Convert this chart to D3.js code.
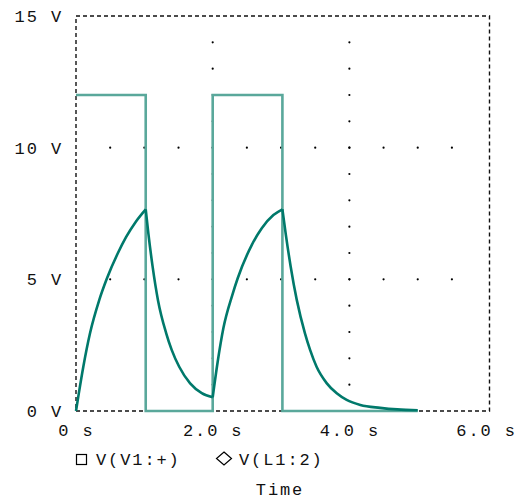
<!DOCTYPE html>
<html>
<head>
<meta charset="utf-8">
<script src="https://cdn.jsdelivr.net/npm/d3@7"></script>
<style>
	body { margin: 0; background: #fff; }
	text { font-family: "Liberation Mono", monospace; font-size: 17px; letter-spacing: 1.9px; fill: #111; }
</style>
</head>
<body>
<div id="chart"></div>
<script>
// ********** TRANSIENT PLOT **********

// Tick labels
const xTicks = [0, 2, 4, 6];
const xTickLabels = ['0 s', '2.0 s', '4.0 s', '6.0 s'];
const yTicks = [0, 5, 10, 15];
const yTickLabels = ['0 V', '5 V', '10 V', '15 V'];

// V(V1:+) - pulse source, [time s, volts]
const pulseTime = [0, 1.02, 1.02, 2.0, 2.0, 3.02, 3.02, 5.0];
const pulseVolts = [12, 12, 0, 0, 12, 12, 0, 0];

// V(L1:2), one array per segment (the corners are sharp)
const riseOneTime = [0, 0.04, 0.107, 0.205, 0.341, 0.449, 0.61, 0.732, 0.878, 1.02];
const riseOneVolts = [0, 0.65, 1.68, 2.95, 4.22, 5.01, 5.98, 6.6, 7.2, 7.66];
const fallOneTime = [1.02, 1.06, 1.12, 1.2, 1.32, 1.40, 1.51, 1.67, 1.84, 2.0];
const fallOneVolts = [7.66, 6.72, 5.5, 4.2, 2.95, 2.32, 1.68, 1.05, 0.68, 0.52];
const riseTwoTime = [2.0, 2.073, 2.156, 2.288, 2.366, 2.571, 2.718, 2.888, 3.02];
const riseTwoVolts = [0.52, 1.87, 3.14, 4.41, 5.04, 6.30, 6.94, 7.44, 7.66];
const fallTwoTime = [3.02, 3.07, 3.14, 3.23, 3.35, 3.425, 3.52, 3.67, 3.815, 3.96, 4.16, 4.45, 4.7, 5.0];
const fallTwoVolts = [7.66, 6.7, 5.5, 4.22, 2.95, 2.32, 1.68, 1.05, 0.67, 0.42, 0.23, 0.12, 0.06, 0.03];

// Dotted grid positions
const gridTimes = [2, 4];
const gridVolts = [5, 10];

const width = 529, height = 500;
const margin = { top: 16, left: 76, right: 39.5, bottom: 89 };

const colors = { pulse: '#5aa89b', coil: '#00796b', frame: '#111' };

const svg = d3.select('#chart')
	.append('svg')
	.attr('width', width)
	.attr('height', height);

// Scales
const xScale = d3.scaleLinear()
	.domain([0, 6.05])
	.range([margin.left, width - margin.right]);
const yScale = d3.scaleLinear()
	.domain([0, 15])
	.range([height - margin.bottom, margin.top]);

const zip = (ts, vs) => ts.map((t, i) => [t, vs[i]]);

// Dotted grid: vertical lines get a dot every volt, horizontal every half second
const dots = [];
gridTimes.forEach(t => d3.range(1, 15).forEach(v => dots.push([t, v])));
gridVolts.forEach(v => d3.range(0.5, 6, 0.5).forEach(t => dots.push([t, v])));
svg.append('g')
	.attr('class', 'grid')
	.selectAll('circle')
	.data(dots)
	.enter()
	.append('circle')
	.attr('cx', d => xScale(d[0]))
	.attr('cy', d => yScale(d[1]))
	.attr('r', 1.1)
	.attr('fill', '#000');

// Frame (dashed box)
const [x0, x1] = xScale.range();
const [y0, y1] = yScale.range();
svg.append('rect')
	.attr('x', x0)
	.attr('y', y1)
	.attr('width', x1 - x0)
	.attr('height', y0 - y1)
	.attr('fill', 'none')
	.attr('stroke', colors.frame)
	.attr('stroke-width', 1.4)
	.attr('stroke-dasharray', '4,3');

// Traces
const line = d3.line()
	.x(d => xScale(d[0]))
	.y(d => yScale(d[1]));

svg.append('path')
	.datum(zip(pulseTime, pulseVolts))
	.attr('class', 'trace pulse')
	.attr('d', line)
	.attr('fill', 'none')
	.attr('stroke', colors.pulse)
	.attr('stroke-width', 2.6);

const smooth = d3.line()
	.x(d => xScale(d[0]))
	.y(d => yScale(d[1]))
	.curve(d3.curveMonotoneX);
const segments = [
	zip(riseOneTime, riseOneVolts),
	zip(fallOneTime, fallOneVolts),
	zip(riseTwoTime, riseTwoVolts),
	zip(fallTwoTime, fallTwoVolts)
];
svg.append('g')
	.attr('class', 'trace coil')
	.selectAll('path')
	.data(segments)
	.enter()
	.append('path')
	.attr('d', d => smooth(d))
	.attr('fill', 'none')
	.attr('stroke', colors.coil)
	.attr('stroke-width', 2.6)
	.attr('stroke-linejoin', 'round');

// Axes - labels only, no tick marks
const xAxis = d3.axisBottom(xScale)
	.tickValues(xTicks)
	.tickSize(0)
	.tickPadding(0)
	.tickFormat((d, i) => xTickLabels[i]);
const xg = svg.append('g')
	.attr('class', 'x axis')
	.attr('transform', `translate(0, ${y0 + 13})`)
	.call(xAxis);
xg.select('.domain').remove();
xg.selectAll('text').attr('fill', null).attr('dy', null).attr('y', 12);

const yAxis = d3.axisLeft(yScale)
	.tickValues(yTicks)
	.tickSize(0)
	.tickPadding(0)
	.tickFormat((d, i) => yTickLabels[i]);
const yg = svg.append('g')
	.attr('class', 'y axis')
	.attr('transform', `translate(${x0 - 13}, 0)`)
	.call(yAxis);
yg.select('.domain').remove();
yg.selectAll('text').attr('fill', null).attr('dy', '0.33em');

// Legend
const legend = svg.append('g').attr('class', 'legend');
legend.append('rect')
	.attr('x', 76.5)
	.attr('y', 454.5)
	.attr('width', 10)
	.attr('height', 10)
	.attr('fill', 'none')
	.attr('stroke', '#000')
	.attr('stroke-width', 1.2);
legend.append('text')
	.attr('x', 96)
	.attr('y', 465)
	.text('V(V1:+)');
legend.append('path')
	.attr('d', 'M224,452 L231.5,458.5 L224,465 L216.5,458.5 Z')
	.attr('fill', 'none')
	.attr('stroke', '#000')
	.attr('stroke-width', 1.2);
legend.append('text')
	.attr('x', 239)
	.attr('y', 465)
	.text('V(L1:2)');

// Axis title
svg.append('text')
	.attr('class', 'label x')
	.attr('x', 280)
	.attr('y', 495)
	.attr('text-anchor', 'middle')
	.text('Time');
</script>
</body>
</html>
